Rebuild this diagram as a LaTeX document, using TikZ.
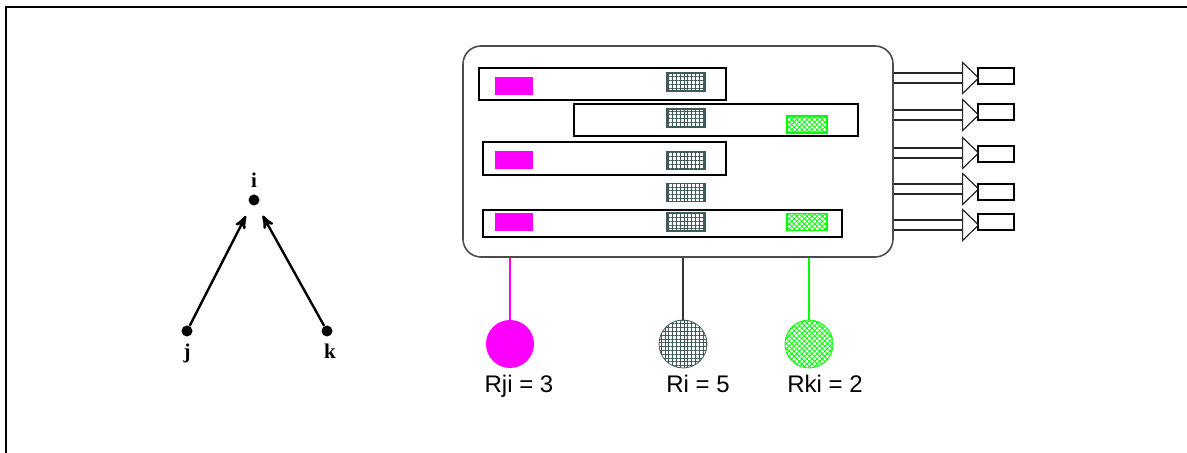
\documentclass[tikz,border=0pt]{standalone}
\usepackage{fontspec}
\setmainfont{Liberation Serif}
\newfontfamily\tagfont{Liberation Sans}
\usetikzlibrary{arrows, positioning, shapes.geometric, patterns.meta}
\definecolor{rosa}{HTML}{FF00FF}
\definecolor{lime}{HTML}{00FF00}
\definecolor{mesh}{HTML}{3F5A5A}

\begin{document}
\begin{tikzpicture}[x=0.5pt,y=-0.5pt,>=stealth',font=\fontsize{10.5}{12}\selectfont\bfseries,
      dot/.style={circle,fill,inner sep=0pt,minimum size=5.5pt},
      tag/.style={font=\tagfont\fontsize{12}{14}\selectfont},
      panel/.style={draw=black!70,line width=0.8pt,rounded corners=9pt,minimum width=215pt,minimum height=105.5pt,inner sep=0pt},
      bar/.style={draw,line width=0.8pt,minimum height=16pt,inner sep=0pt},
      meshfill/.style={pattern={Hatch[angle=0,distance=1.9pt,line width=0.4pt]},pattern color=mesh},
      limefill/.style={pattern={Hatch[angle=45,distance=1.8pt,line width=0.4pt]},pattern color=lime},
      own/.style={fill=rosa,minimum width=19pt,minimum height=9pt,inner sep=0pt},
      local/.style={draw=mesh,line width=0.6pt,meshfill,minimum width=19pt,minimum height=9pt,inner sep=0pt},
      remote/.style={draw=lime,line width=0.7pt,limefill,minimum width=20pt,minimum height=8.5pt,inner sep=0pt},
      ball/.style={circle,minimum size=24pt,inner sep=0pt},
      tip/.style={isosceles triangle,isosceles triangle stretches,draw=black!85,line width=0.6pt,
        minimum width=15.5pt,minimum height=8pt,inner sep=0pt,anchor=west},
      sink/.style={draw,line width=0.7pt,minimum width=18pt,minimum height=8pt,inner sep=0pt},
      shaft/.style={draw=black!85,double,double distance=4.4pt,line width=0.6pt}]
  \useasboundingbox (0,0) rectangle (1187,453);
  \draw[line width=0.6pt] (6,453) -- (6,7) -- (1187,7);

  % dependency graph
  \node[dot, label=above:i] (i) at (254,200) {};
  \node[dot, label=below:j] (j) at (187,331) {};
  \node[dot, label={[xshift=1.5pt]below:k}] (k) at (327,331) {};
\path[->,line width=1.2pt,shorten >=6pt]
    (j) edge (i)
    (k) edge (i);

  % buffer of node i
  \node[panel] (box) at (678,151.5) {};
  \node[bar, minimum width=123.5pt] (b1) at (602.5,84) {};
  \node[bar, minimum width=142pt] (b2) at (716,120) {};
  \node[bar, minimum width=121.5pt, minimum height=16.5pt] (b3) at (604.5,158.5) {};
  \node[bar, minimum width=179.5pt, minimum height=13.5pt] (b5) at (662.5,223.5) {};
  \node[own] (o1) at (514,86) {};
  \node[own] (o3) at (514,160.5) {};
  \node[own] (o5) at (514,222) {};
  \node[local] (l1) at (686,82) {};
  \node[local] (l2) at (686,118) {};
  \node[local] (l3) at (686,160.5) {};
  \node[local] (l4) at (686,192.5) {};
  \node[local] (l5) at (686,222) {};
  \node[remote] (r2) at (807,124.5) {};
  \node[remote] (r5) at (807,222) {};

  % rates
  \node[ball, fill=rosa, label={[tag,xshift=4.5pt]below:Rji = 3}] (rji) at (510,344) {};
  \node[ball, draw=mesh, meshfill, label={[tag,xshift=7.5pt]below:Ri = 5}] (ri) at (683,344) {};
  \node[ball, draw=lime, limefill, label={[tag,xshift=8pt]below:Rki = 2}] (rki) at (809,344) {};
  \draw[rosa, line width=0.6pt] (rji.north |- box.south) -- (rji);
  \draw[black!80, line width=0.7pt] (ri.north |- box.south) -- (ri);
  \draw[lime, line width=0.7pt] (rki.north |- box.south) -- (rki);

  % outputs
  \node[sink] (s1) at (996,76) {};
  \node[sink] (s2) at (996,112) {};
  \node[sink] (s3) at (996,154) {};
  \node[sink] (s4) at (996,192) {};
  \node[sink] (s5) at (996,222) {};
  \node[tip] (t1) at (962,78) {};
  \node[tip] (t2) at (962,115) {};
  \node[tip] (t3) at (962,153) {};
  \node[tip] (t4) at (962,189) {};
  \node[tip] (t5) at (962,225) {};
  \draw[shaft] (t1.west -| box.east) -- (t1.west);
  \draw[shaft] (t2.west -| box.east) -- (t2.west);
  \draw[shaft] (t3.west -| box.east) -- (t3.west);
  \draw[shaft] (t4.west -| box.east) -- (t4.west);
  \draw[shaft] (t5.west -| box.east) -- (t5.west);
\end{tikzpicture}
\end{document}
